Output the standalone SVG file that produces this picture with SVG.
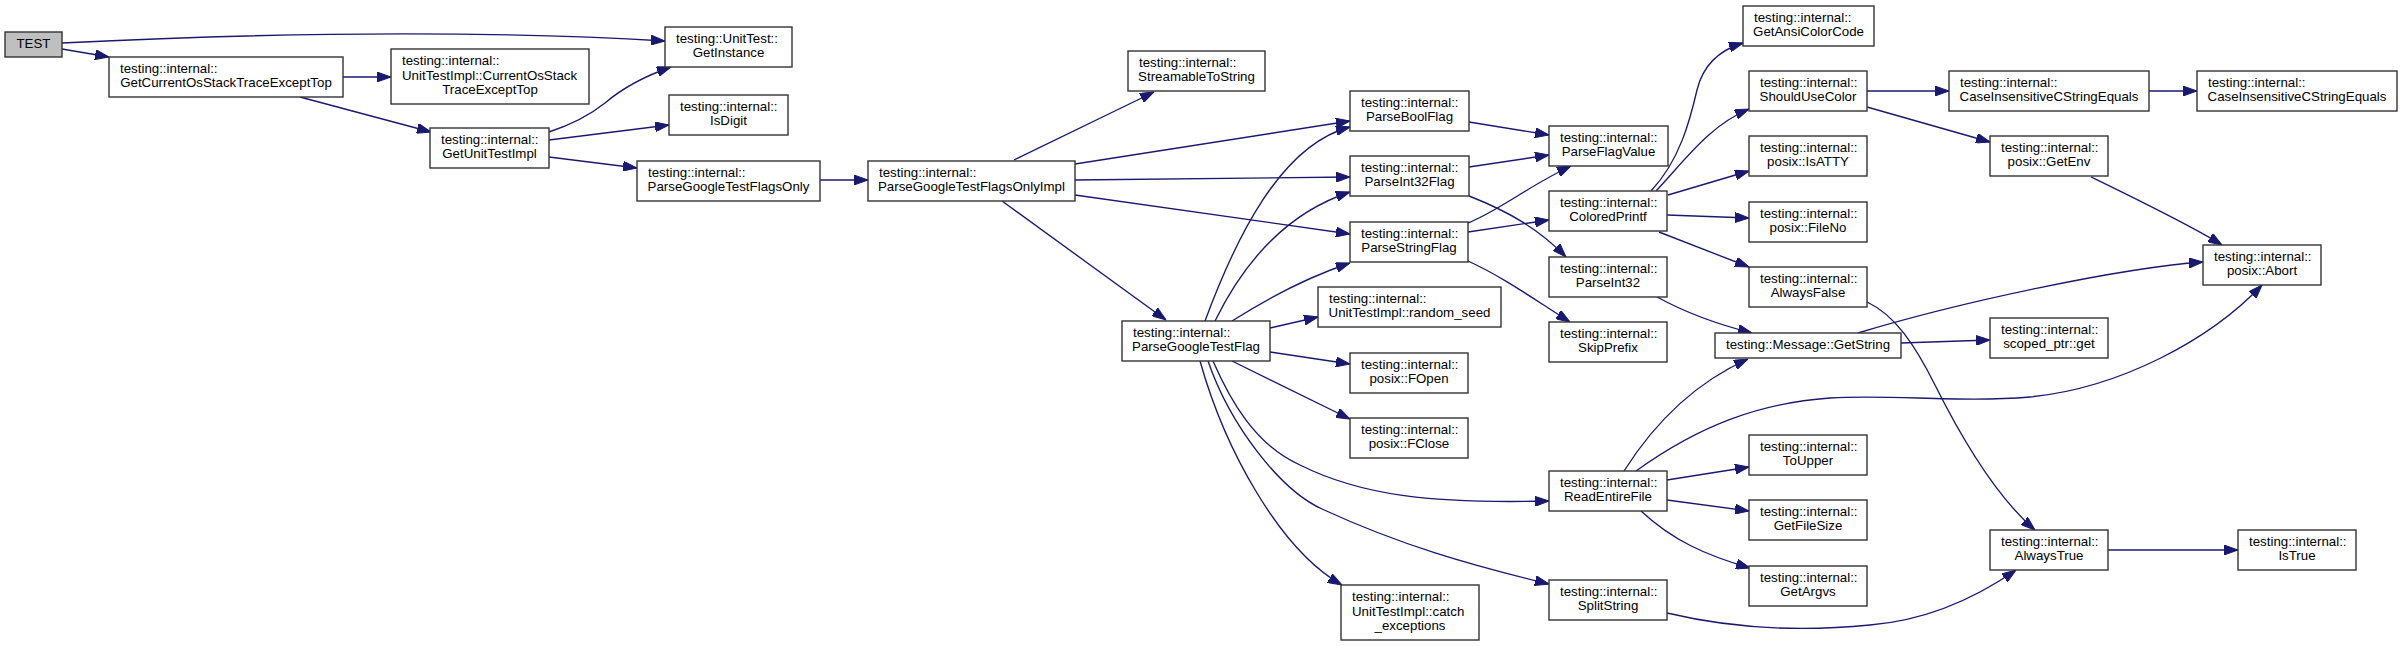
<svg xmlns="http://www.w3.org/2000/svg" width="2403" height="646" viewBox="0 0 2403 646">
<style>
.n rect{fill:#fff;stroke:#333;stroke-width:1.4}
.n text{font-family:"Liberation Sans",Arial,Helvetica,sans-serif;font-size:13.3px;fill:#000}
.c{text-anchor:middle}
.e path{fill:none;stroke:#191970;stroke-width:1.35;marker-end:url(#ah)}
</style>
<defs>
<marker id="ah" markerUnits="userSpaceOnUse" markerWidth="14" markerHeight="10" refX="14" refY="5" orient="auto" viewBox="0 0 14 10"><path d="M0,0 L14,5 L0,10 z" fill="#191970" stroke="#191970" stroke-width="1"/></marker>
</defs>
<rect width="2403" height="646" fill="#fff"/>
<g class="e" id="edges">
<path d="M62,43 C243,34 462,29 665,41"/>
<path d="M62,49 L109,57"/>
<path d="M343,77 L391,77"/>
<path d="M300,97 L431,132"/>
<path d="M549,132 C570,125 590,115 605,103 C625,86 645,76 671,67"/>
<path d="M549,140 L669,125"/>
<path d="M549,157 L637,168"/>
<path d="M820,180 L868,180"/>
<path d="M1014,160 L1154,92"/>
<path d="M1075,164 L1350,121"/>
<path d="M1075,180 L1350,177"/>
<path d="M1075,195 L1350,234"/>
<path d="M1002,201 L1166,320"/>
<path d="M1205,321 C1235,240 1280,145 1350,127"/>
<path d="M1215,321 C1240,270 1280,215 1350,192"/>
<path d="M1232,321 C1265,300 1305,278 1350,263"/>
<path d="M1270,328 L1318,317"/>
<path d="M1270,352 L1350,364"/>
<path d="M1232,361 L1350,419"/>
<path d="M1213,361 C1230,400 1255,445 1300,465 C1360,495 1430,504 1549,501"/>
<path d="M1208,361 C1230,425 1280,490 1322,509 C1400,545 1470,565 1549,584"/>
<path d="M1200,361 C1225,450 1280,550 1342,585"/>
<path d="M1469,122 L1549,135"/>
<path d="M1469,167 L1549,155"/>
<path d="M1468,223 C1500,210 1530,185 1571,166"/>
<path d="M1469,196 C1510,212 1540,230 1566,257"/>
<path d="M1468,232 L1549,220"/>
<path d="M1468,261 C1505,278 1535,300 1570,322"/>
<path d="M1651,191 C1680,160 1690,120 1697,90 C1703,65 1720,50 1743,43"/>
<path d="M1656,191 C1685,160 1710,125 1749,109"/>
<path d="M1668,195 L1749,171"/>
<path d="M1667,215 L1749,218"/>
<path d="M1659,232 L1749,267"/>
<path d="M1867,91 L1949,91"/>
<path d="M2149,91 L2197,91"/>
<path d="M1867,107 L1990,142"/>
<path d="M2091,177 C2130,196 2190,225 2222,245"/>
<path d="M1657,297 C1690,315 1720,325 1752,333"/>
<path d="M1624,471 C1650,430 1690,385 1748,359"/>
<path d="M1636,471 C1700,425 1760,403 1830,398 C1890,394 1960,403 2030,397 C2120,388 2210,340 2262,285"/>
<path d="M1858,333 C1960,302 2120,268 2203,262"/>
<path d="M1667,480 L1749,467"/>
<path d="M1667,500 L1749,511"/>
<path d="M1641,511 C1672,540 1705,555 1750,568"/>
<path d="M1901,343 L1990,340"/>
<path d="M1867,302 C1895,315 1915,345 1935,385 C1965,445 2000,500 2035,530"/>
<path d="M1667,613 C1730,628 1800,632 1870,625 C1930,620 1980,595 2016,570"/>
<path d="M2108,550 L2238,550"/>
</g>
<g class="n" id="n_test"><rect x="5" y="32" width="57" height="25" style="fill:#bfbfbf"/><text class="c" x="33.5" y="48">TEST</text></g>
<g class="n" id="n_gcost"><rect x="109" y="57" width="234" height="40"/><text x="120" y="73">testing::internal::</text><text class="c" x="226" y="87">GetCurrentOsStackTraceExceptTop</text></g>
<g class="n" id="n_cost"><rect x="391" y="49" width="198" height="55"/><text x="402" y="65">testing::internal::</text><text x="402" y="79.5">UnitTestImpl::CurrentOsStack</text><text class="c" x="490" y="94">TraceExceptTop</text></g>
<g class="n" id="n_getinst"><rect x="665" y="27" width="127" height="40"/><text x="676" y="43">testing::UnitTest::</text><text class="c" x="728.5" y="57">GetInstance</text></g>
<g class="n" id="n_guti"><rect x="430" y="128" width="119" height="40"/><text x="441" y="144">testing::internal::</text><text class="c" x="489.5" y="158">GetUnitTestImpl</text></g>
<g class="n" id="n_isdigit"><rect x="669" y="95" width="119" height="40"/><text x="680" y="111">testing::internal::</text><text class="c" x="728.5" y="125">IsDigit</text></g>
<g class="n" id="n_pgtfo"><rect x="637" y="161" width="183" height="40"/><text x="648" y="177">testing::internal::</text><text class="c" x="728.5" y="191">ParseGoogleTestFlagsOnly</text></g>
<g class="n" id="n_pgtfoi"><rect x="868" y="161" width="207" height="40"/><text x="879" y="177">testing::internal::</text><text class="c" x="971.5" y="191">ParseGoogleTestFlagsOnlyImpl</text></g>
<g class="n" id="n_sts"><rect x="1128" y="51" width="137" height="40"/><text x="1139" y="67">testing::internal::</text><text class="c" x="1196.5" y="81">StreamableToString</text></g>
<g class="n" id="n_pbf"><rect x="1350" y="91" width="119" height="40"/><text x="1361" y="107">testing::internal::</text><text class="c" x="1409.5" y="121">ParseBoolFlag</text></g>
<g class="n" id="n_pi32f"><rect x="1350" y="156" width="119" height="40"/><text x="1361" y="172">testing::internal::</text><text class="c" x="1409.5" y="186">ParseInt32Flag</text></g>
<g class="n" id="n_psf"><rect x="1350" y="222" width="118" height="40"/><text x="1361" y="238">testing::internal::</text><text class="c" x="1409" y="252">ParseStringFlag</text></g>
<g class="n" id="n_pgtf"><rect x="1122" y="321" width="148" height="40"/><text x="1133" y="337">testing::internal::</text><text class="c" x="1196" y="351">ParseGoogleTestFlag</text></g>
<g class="n" id="n_rs"><rect x="1318" y="287" width="183" height="40"/><text x="1329" y="303">testing::internal::</text><text class="c" x="1409.5" y="317">UnitTestImpl::random_seed</text></g>
<g class="n" id="n_fopen"><rect x="1350" y="353" width="118" height="40"/><text x="1361" y="369">testing::internal::</text><text class="c" x="1409" y="383">posix::FOpen</text></g>
<g class="n" id="n_fclose"><rect x="1350" y="418" width="118" height="40"/><text x="1361" y="434">testing::internal::</text><text class="c" x="1409" y="448">posix::FClose</text></g>
<g class="n" id="n_catch"><rect x="1341" y="585" width="138" height="55"/><text x="1352" y="601">testing::internal::</text><text x="1352" y="615.5">UnitTestImpl::catch</text><text class="c" x="1410" y="630">_exceptions</text></g>
<g class="n" id="n_pfv"><rect x="1549" y="126" width="119" height="40"/><text x="1560" y="142">testing::internal::</text><text class="c" x="1608.5" y="156">ParseFlagValue</text></g>
<g class="n" id="n_cp"><rect x="1549" y="191" width="118" height="40"/><text x="1560" y="207">testing::internal::</text><text class="c" x="1608" y="221">ColoredPrintf</text></g>
<g class="n" id="n_pi32"><rect x="1549" y="257" width="118" height="40"/><text x="1560" y="273">testing::internal::</text><text class="c" x="1608" y="287">ParseInt32</text></g>
<g class="n" id="n_skip"><rect x="1549" y="322" width="118" height="40"/><text x="1560" y="338">testing::internal::</text><text class="c" x="1608" y="352">SkipPrefix</text></g>
<g class="n" id="n_ref"><rect x="1549" y="471" width="118" height="40"/><text x="1560" y="487">testing::internal::</text><text class="c" x="1608" y="501">ReadEntireFile</text></g>
<g class="n" id="n_split"><rect x="1549" y="580" width="118" height="40"/><text x="1560" y="596">testing::internal::</text><text class="c" x="1608" y="610">SplitString</text></g>
<g class="n" id="n_gacc"><rect x="1743" y="6" width="131" height="40"/><text x="1754" y="22">testing::internal::</text><text class="c" x="1808.5" y="36">GetAnsiColorCode</text></g>
<g class="n" id="n_suc"><rect x="1749" y="71" width="118" height="40"/><text x="1760" y="87">testing::internal::</text><text class="c" x="1808" y="101">ShouldUseColor</text></g>
<g class="n" id="n_isatty"><rect x="1749" y="136" width="118" height="40"/><text x="1760" y="152">testing::internal::</text><text class="c" x="1808" y="166">posix::IsATTY</text></g>
<g class="n" id="n_fileno"><rect x="1749" y="202" width="118" height="40"/><text x="1760" y="218">testing::internal::</text><text class="c" x="1808" y="232">posix::FileNo</text></g>
<g class="n" id="n_af"><rect x="1749" y="267" width="118" height="40"/><text x="1760" y="283">testing::internal::</text><text class="c" x="1808" y="297">AlwaysFalse</text></g>
<g class="n" id="n_gs"><rect x="1715" y="333" width="186" height="25"/><text class="c" x="1808" y="349">testing::Message::GetString</text></g>
<g class="n" id="n_toupper"><rect x="1749" y="435" width="118" height="40"/><text x="1760" y="451">testing::internal::</text><text class="c" x="1808" y="465">ToUpper</text></g>
<g class="n" id="n_gfs"><rect x="1749" y="500" width="118" height="40"/><text x="1760" y="516">testing::internal::</text><text class="c" x="1808" y="530">GetFileSize</text></g>
<g class="n" id="n_argv"><rect x="1749" y="566" width="118" height="40"/><text x="1760" y="582">testing::internal::</text><text class="c" x="1808" y="596">GetArgvs</text></g>
<g class="n" id="n_cic1"><rect x="1949" y="71" width="200" height="40"/><text x="1960" y="87">testing::internal::</text><text class="c" x="2049" y="101">CaseInsensitiveCStringEquals</text></g>
<g class="n" id="n_cic2"><rect x="2197" y="71" width="200" height="40"/><text x="2208" y="87">testing::internal::</text><text class="c" x="2297" y="101">CaseInsensitiveCStringEquals</text></g>
<g class="n" id="n_getenv"><rect x="1990" y="136" width="118" height="40"/><text x="2001" y="152">testing::internal::</text><text class="c" x="2049" y="166">posix::GetEnv</text></g>
<g class="n" id="n_sp"><rect x="1990" y="318" width="118" height="40"/><text x="2001" y="334">testing::internal::</text><text class="c" x="2049" y="348">scoped_ptr::get</text></g>
<g class="n" id="n_at"><rect x="1990" y="530" width="118" height="40"/><text x="2001" y="546">testing::internal::</text><text class="c" x="2049" y="560">AlwaysTrue</text></g>
<g class="n" id="n_istrue"><rect x="2238" y="530" width="118" height="40"/><text x="2249" y="546">testing::internal::</text><text class="c" x="2297" y="560">IsTrue</text></g>
<g class="n" id="n_abort"><rect x="2203" y="245" width="118" height="40"/><text x="2214" y="261">testing::internal::</text><text class="c" x="2262" y="275">posix::Abort</text></g>
</svg>
